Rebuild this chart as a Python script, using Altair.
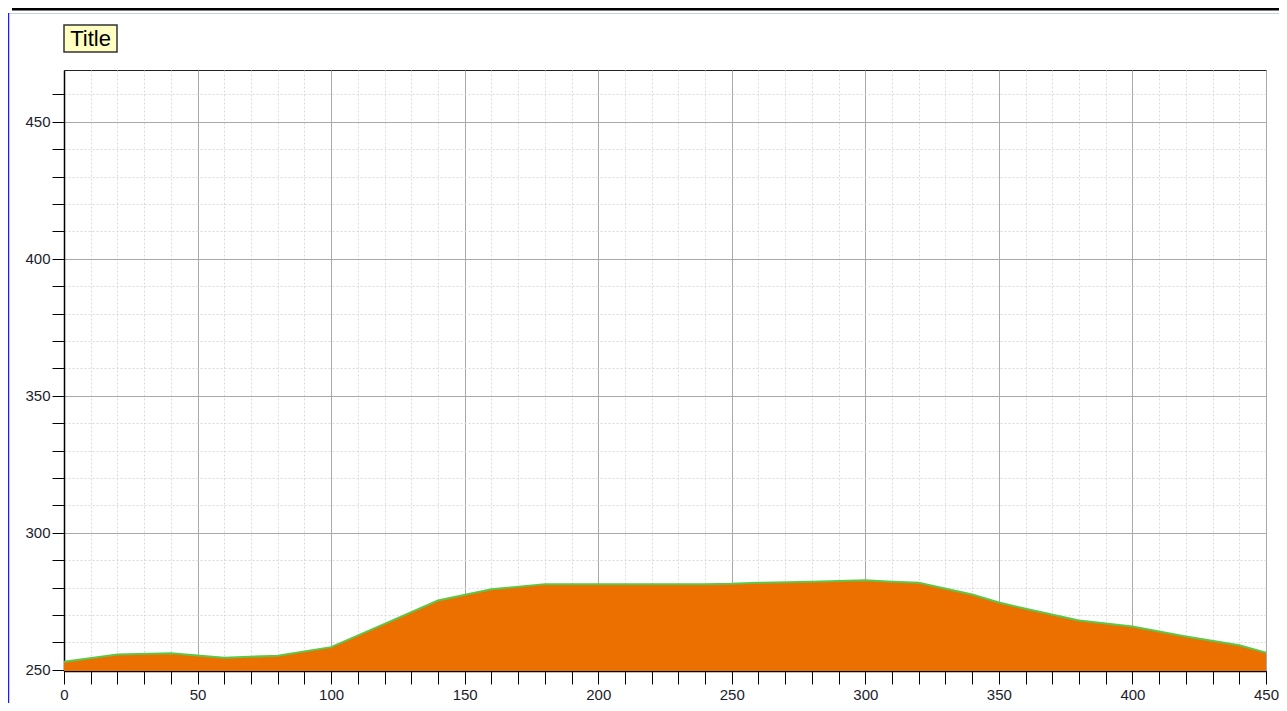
import altair as alt
import pandas as pd

# Data
x_vals = [0, 20, 40, 60, 80, 100, 120, 140, 160, 180, 200, 220, 240, 250, 260,
          280, 300, 310, 320, 340, 350, 360, 380, 400, 420, 440, 450]
y_vals = [253.0, 255.6, 256.1, 254.4, 255.2, 258.3, 266.8, 275.3, 279.4, 281.3,
          281.3, 281.3, 281.3, 281.4, 281.8, 282.2, 282.7, 282.2, 281.8, 277.5,
          274.6, 272.3, 268.0, 265.8, 262.2, 259.0, 256.3]
x_ticks = list(range(0, 451, 10))
y_ticks = list(range(250, 461, 10))
x_domain = [0, 450]
y_domain = [249.6, 468.9]
title_text = ["Title"]

df = pd.DataFrame({"x": x_vals, "y": y_vals})

FONT = "Liberation Sans"
grid_color = {"condition": {"test": "datum.value % 50 === 0", "value": "#a9a9a9"}, "value": "#dadada"}
grid_dash = {"condition": {"test": "datum.value % 50 === 0", "value": []}, "value": [2, 2]}
label_expr = "datum.value % 50 === 0 ? datum.label : ''"

W = 1202
H = 601

x_enc = alt.X("x:Q",
              scale=alt.Scale(domain=x_domain, nice=False, zero=False),
              axis=alt.Axis(values=x_ticks, labelExpr=label_expr, title=None,
                            tickSize=13, tickColor="black", domainColor="black",
                            domainWidth=1.5, labelFont=FONT, labelFontSize=15,
                            labelColor="#1c1c2c", labelPadding=3, labelFlush=False,
                            labelOverlap=False, grid=True, gridColor=grid_color,
                            gridDash=grid_dash, gridWidth=1))
y_enc = alt.Y("y:Q",
              scale=alt.Scale(domain=y_domain, nice=False, zero=False),
              axis=alt.Axis(values=y_ticks, labelExpr=label_expr, title=None,
                            tickSize=12, tickColor="black", domainColor="black",
                            domainWidth=1.5, labelFont=FONT, labelFontSize=15,
                            labelColor="#1c1c2c", labelPadding=2, labelFlush=False,
                            labelOverlap=False, grid=True, gridColor=grid_color,
                            gridDash=grid_dash, gridWidth=1))

area = alt.Chart(df).mark_area(color="#ec7000", opacity=1,
                               line={"color": "#5cc84a", "strokeWidth": 2}).encode(
    x=x_enc, y=y_enc, y2=alt.datum(y_domain[0]))

tdf = pd.DataFrame({"t": title_text})
title_box = alt.Chart(tdf).mark_rect(fill="#ffffc2", stroke="#333333", strokeWidth=1.5).encode(
    x=alt.value(0), x2=alt.value(53), y=alt.value(-45), y2=alt.value(-18))
title_txt = alt.Chart(tdf).mark_text(font=FONT, fontSize=22, color="black",
                                     align="center", baseline="middle").encode(
    x=alt.value(26.5), y=alt.value(-31), text="t:N")

# window chrome lines
top_line = alt.Chart(tdf).mark_rule(color="black", strokeWidth=3).encode(
    x=alt.value(-52), x2=alt.value(W + 13), y=alt.value(-61))
blue_h = alt.Chart(tdf).mark_rule(color="#c8d0f0", strokeWidth=1).encode(
    x=alt.value(-56), x2=alt.value(W + 13), y=alt.value(-56.5))
blue_v = alt.Chart(tdf).mark_rule(color="#1a1aff", strokeWidth=1.5).encode(
    x=alt.value(-55.5), y=alt.value(-57), y2=alt.value(641))

chart = alt.layer(area, title_box, title_txt, top_line, blue_h, blue_v).properties(
    width=W, height=H,
    autosize=alt.AutoSizeParams(type="none"),
    padding={"left": 56, "top": 62, "right": 13, "bottom": 32},
).configure_view(stroke="#222222", strokeWidth=1)

chart.save("out.html", embed_options={"renderer": "svg", "actions": False})
